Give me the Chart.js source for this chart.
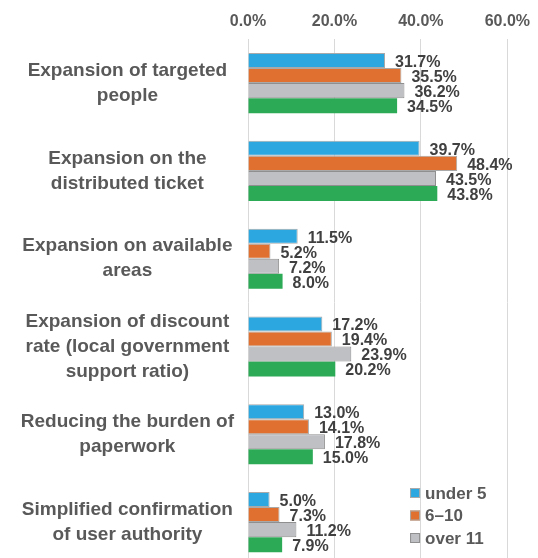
<!DOCTYPE html>
<html>
<head>
<meta charset="utf-8">
<script src="https://cdn.jsdelivr.net/npm/chart.js@4.4.1/dist/chart.umd.min.js"></script>
<style>
  html, body { margin: 0; padding: 0; background: #fff; overflow: hidden; }
  #wrap { width: 538px; height: 566px; position: relative; }
</style>
</head>
<body>
<div id="wrap"><canvas id="requestChart"></canvas></div>
<script>
// Requested improvements, share of respondents by group
const categories = [
    ['Expansion of targeted', 'people'],
    ['Expansion on the', 'distributed ticket'],
    ['Expansion on available', 'areas'],
    ['Expansion of discount', 'rate (local government', 'support ratio)'],
    ['Reducing the burden of', 'paperwork'],
    ['Simplified confirmation', 'of user authority']
];
const seriesNames = ['under 5', '6\u201310', 'over 11', ''];
const under5 = [31.7, 39.7, 11.5, 17.2, 13.0, 5.0];
const from6to10 = [35.5, 48.4, 5.2, 19.4, 14.1, 7.3];
const over11 = [36.2, 43.5, 7.2, 23.9, 17.8, 11.2];
const overall = [34.5, 43.8, 8.0, 20.2, 15.0, 7.9];
const xTicks = [0, 20, 40, 60];

const fillColors = ['#2ca7df', '#e0702f', '#bfc0c4', '#2caa56'];
const edgeColors = ['#a9a9a9', '#a9a9a9', '#8f8f8f', '#2caa56'];
const textGray = '#595959';

// value labels drawn right after each bar end
const barValueLabels = {
    id: 'barValueLabels',
    afterDatasetsDraw(chart) {
        const ctx = chart.ctx;
        ctx.save();
        ctx.font = 'bold 16px "Liberation Sans", Arial, sans-serif';
        ctx.fillStyle = '#404040';
        ctx.textAlign = 'left';
        ctx.textBaseline = 'middle';
        chart.data.datasets.forEach((ds, i) => {
            chart.getDatasetMeta(i).data.forEach((bar, j) => {
                ctx.fillText(ds.data[j].toFixed(1) + '%', bar.x + 10, bar.y + 2);
            });
        });
        ctx.restore();
    }
};

// legend sits inside the plot, bottom right, first three series only
const innerLegend = {
    id: 'innerLegend',
    afterDraw(chart) {
        const ctx = chart.ctx;
        const x = chart.scales.x.getPixelForValue(37.5);
        ctx.save();
        ctx.font = 'bold 17px "Liberation Sans", Arial, sans-serif';
        ctx.textBaseline = 'middle';
        for (let i = 0; i < 3; i++) {
            const y = 493 + i * 22.5;
            ctx.fillStyle = fillColors[i];
            ctx.fillRect(x, y - 5, 10, 10);
            ctx.strokeStyle = edgeColors[i];
            ctx.lineWidth = 1;
            ctx.strokeRect(x + 0.5, y - 4.5, 9, 9);
            ctx.fillStyle = textGray;
            ctx.fillText(seriesNames[i], x + 15, y + 1);
        }
        ctx.restore();
    }
};

const datasets = [under5, from6to10, over11, overall].map((values, i) => ({
    label: seriesNames[i],
    data: values,
    backgroundColor: fillColors[i],
    borderColor: edgeColors[i],
    borderWidth: i < 3 ? 1 : 0,
    barPercentage: 1.0,
    categoryPercentage: 0.685
}));

const ctx = document.getElementById('requestChart').getContext('2d');
new Chart(ctx, {
    type: 'bar',
    data: { labels: categories, datasets: datasets },
    plugins: [barValueLabels, innerLegend],
    options: {
        indexAxis: 'y',
        responsive: true,
        maintainAspectRatio: false,
        animation: false,
        layout: { padding: { top: 4, right: 29, bottom: 0, left: 0 } },
        plugins: {
            legend: { display: false },
            tooltip: { enabled: false }
        },
        scales: {
            x: {
                position: 'top',
                min: 0,
                max: 60,
                afterBuildTicks: (scale) => { scale.ticks = xTicks.map(v => ({ value: v })); },
                ticks: {
                    callback: (v) => Number(v).toFixed(1) + '%',
                    color: textGray,
                    font: { family: '"Liberation Sans", Arial, sans-serif', size: 16, weight: 'bold' },
                    padding: 8
                },
                grid: { color: '#d9d9d9', drawTicks: false },
                border: { display: false }
            },
            y: {
                afterFit: (scale) => {
                    scale.width = 248;
                    scale.paddingTop = 0;
                    scale.paddingBottom = 0;
                },
                ticks: {
                    crossAlign: 'center',
                    color: textGray,
                    font: { family: '"Liberation Sans", Arial, sans-serif', size: 19, weight: 'bold', lineHeight: 1.32 },
                    padding: 6
                },
                grid: { display: false },
                border: { display: false }
            }
        }
    }
});
</script>
</body>
</html>
